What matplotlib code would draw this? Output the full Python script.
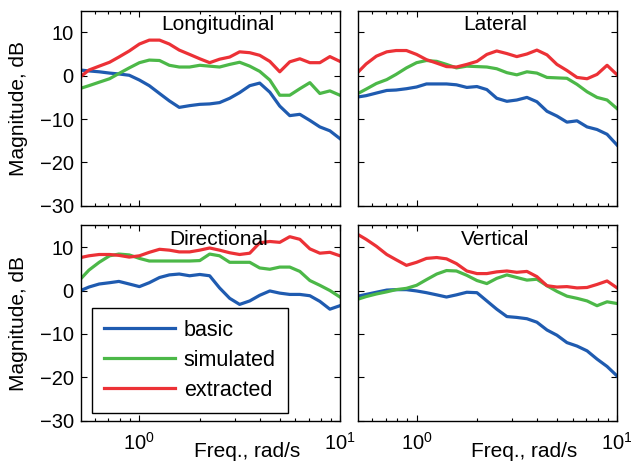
import numpy as np
import matplotlib
matplotlib.use("Agg")
import matplotlib.pyplot as plt

plt.rcParams['font.family'] = ['Liberation Sans', 'DejaVu Sans']
plt.rcParams['font.size'] = 15

# frequency grid, rad/s
freq = [0.51, 0.56, 0.63, 0.71, 0.79, 0.89, 1.00, 1.12, 1.26, 1.41, 1.58, 1.78, 2.00, 2.24,
        2.51, 2.82, 3.16, 3.55, 3.98, 4.47, 5.01, 5.62, 6.31, 7.08, 7.94, 8.91, 10.0]

titles = ['Longitudinal', 'Lateral', 'Directional', 'Vertical']
series_names = ['basic', 'simulated', 'extracted']
series_colors = ['#1f5bb0', '#4cb848', '#ec3136']

# magnitude, dB
lon_basic = [1.3, 1.1, 0.9, 0.6, 0.4, 0.1, -1.0, -2.3, -4.1, -5.8, -7.3, -6.9, -6.6, -6.5,
             -6.2, -5.2, -3.9, -2.3, -1.7, -3.8, -7.0, -9.2, -8.9, -10.3, -11.8, -12.7, -14.5]
lon_sim = [-2.9, -2.3, -1.5, -0.7, 0.5, 1.8, 3.0, 3.6, 3.5, 2.4, 2.0, 2.0, 2.4, 2.2,
           2.0, 2.6, 3.1, 2.2, 1.0, -1.0, -4.5, -4.5, -3.0, -1.6, -4.1, -3.5, -4.5]
lon_ext = [-0.2, 1.3, 2.2, 3.1, 4.3, 5.7, 7.3, 8.2, 8.2, 7.3, 5.9, 4.9, 3.9, 3.0,
           3.8, 4.3, 5.5, 5.3, 4.7, 3.3, 0.9, 3.2, 3.9, 3.0, 3.0, 4.4, 3.3]

lat_basic = [-4.9, -4.6, -4.0, -3.4, -3.3, -3.0, -2.6, -1.9, -1.9, -1.9, -2.1, -2.7, -2.5, -3.2,
             -5.2, -5.9, -5.6, -5.0, -6.0, -8.2, -9.3, -10.7, -10.4, -11.8, -12.4, -13.5, -16.0]
lat_sim = [-4.1, -3.1, -1.8, -0.9, 0.3, 1.8, 3.0, 3.5, 3.3, 2.6, 1.8, 2.2, 2.1, 2.0,
           1.6, 0.7, 0.2, 0.9, 0.6, -0.4, -0.5, -0.6, -2.0, -3.7, -5.0, -5.6, -7.6]
lat_ext = [0.8, 2.7, 4.5, 5.5, 5.8, 5.8, 4.9, 3.7, 2.9, 2.1, 2.0, 2.6, 3.3, 4.9,
           5.7, 5.1, 4.4, 5.0, 5.9, 4.8, 2.6, 1.2, -0.4, -0.7, 0.3, 2.4, 0.2]

dir_basic = [0.0, 0.8, 1.5, 1.8, 2.1, 1.5, 0.9, 1.8, 3.0, 3.6, 3.8, 3.4, 3.7, 3.4,
             0.6, -1.8, -3.2, -2.4, -1.1, -0.1, -0.6, -0.9, -0.9, -1.2, -2.5, -4.3, -3.5]
dir_sim = [2.7, 4.7, 6.5, 8.0, 8.4, 8.2, 7.4, 6.8, 6.8, 6.8, 6.8, 6.8, 6.9, 8.4,
           8.0, 6.5, 6.5, 6.5, 5.2, 4.9, 5.4, 5.4, 4.4, 2.3, 1.2, 0.0, -1.5]
dir_ext = [7.6, 8.0, 8.3, 8.3, 8.1, 7.7, 8.0, 8.8, 9.5, 9.3, 8.9, 8.9, 9.3, 9.8,
           9.3, 8.7, 8.3, 8.6, 11.0, 11.3, 11.1, 12.4, 11.8, 9.6, 8.6, 8.8, 8.0]

ver_basic = [-1.3, -0.9, -0.4, 0.1, 0.2, 0.2, -0.1, -0.5, -1.0, -1.5, -1.0, -0.4, -0.5, -2.4,
             -4.3, -6.0, -6.2, -6.5, -7.3, -9.1, -10.3, -12.0, -12.8, -13.9, -15.8, -17.5, -19.7]
ver_sim = [-2.0, -1.4, -0.8, -0.3, 0.2, 0.5, 1.2, 2.5, 3.8, 4.6, 4.5, 3.5, 2.3, 1.6,
           2.8, 3.6, 3.0, 2.4, 2.6, 1.1, -0.2, -1.3, -1.8, -2.4, -3.5, -2.6, -3.0]
ver_ext = [12.9, 11.8, 10.2, 8.3, 7.1, 5.8, 6.5, 7.4, 7.6, 7.3, 6.2, 4.5, 3.9, 3.9,
           4.3, 4.5, 4.2, 4.4, 3.2, 1.1, 0.8, 0.9, 0.6, 0.7, 1.4, 2.2, 0.6]

panels = [(lon_basic, lon_sim, lon_ext),
          (lat_basic, lat_sim, lat_ext),
          (dir_basic, dir_sim, dir_ext),
          (ver_basic, ver_sim, ver_ext)]

fig, axes = plt.subplots(2, 2, figsize=(6.31, 4.61), dpi=100)
fig.subplots_adjust(left=0.128, right=0.978, bottom=0.0874, top=0.977,
                    wspace=0.0695, hspace=0.1)

for i, ax in enumerate(axes.flat):
    for mag, name, col in zip(panels[i], series_names, series_colors):
        ax.semilogx(freq, mag, color=col, lw=2.3, label=name)

    ax.set_xlim(0.51, 10)
    ax.set_ylim(-30, 15)
    ax.set_yticks([-30, -20, -10, 0, 10])
    ax.tick_params(which='both', direction='in', top=True, right=True, width=0.8)
    ax.tick_params(which='major', length=4, labelsize=14.5, pad=5)
    ax.tick_params(which='minor', length=2)
    ax.tick_params(axis='x', pad=8)
    for s in ax.spines.values():
        s.set_linewidth(1.0)

    ax.text(0.53, 0.975, titles[i], transform=ax.transAxes, ha='center', va='top', fontsize=15)

    row, colm = divmod(i, 2)
    if colm == 0:
        ax.set_ylabel('Magnitude, dB')
        ax.yaxis.set_label_coords(-0.205, 0.5)
    else:
        ax.set_yticklabels([])
    if row == 0:
        ax.set_xticklabels([])
        ax.tick_params(axis='x', which='both', labelbottom=False)
    else:
        ax.set_xlabel('Freq., rad/s')
        ax.xaxis.set_label_coords(0.64, -0.11)

leg = axes[1, 0].legend(loc='lower left', bbox_to_anchor=(0.044, 0.041), borderaxespad=0,
                        fancybox=False, edgecolor='black', framealpha=1,
                        handlelength=3.3, handletextpad=0.4, labelspacing=0.42,
                        borderpad=0.55, fontsize=15.5)
leg.get_frame().set_linewidth(1.0)

fig.savefig('out.png', dpi=100)
